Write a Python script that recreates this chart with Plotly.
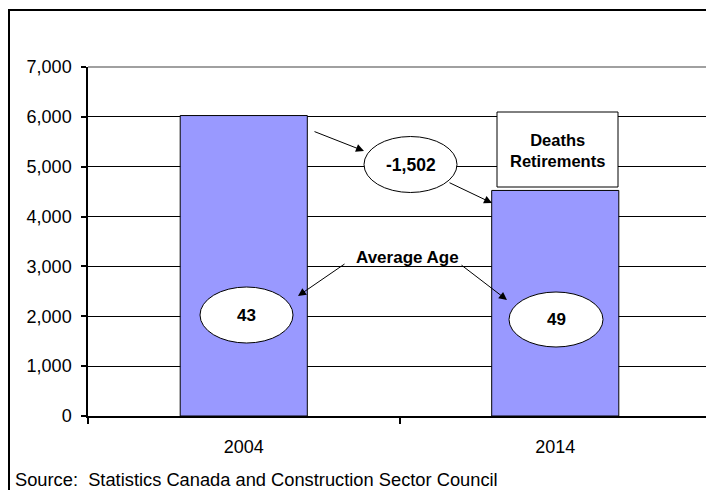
import plotly.graph_objects as go

# ---- data ----
years = ["2004", "2014"]
workers = [6026, 4524]
avg_age = [43, 49]
y_ticks = [0, 1000, 2000, 3000, 4000, 5000, 6000, 7000]
source_text = "Source:  Statistics Canada and Construction Sector Council"
box_text = "<b>Deaths<br>Retirements</b>"
age_label = "Average Age"

change = workers[1] - workers[0]

OFF = 8  # page body margin
W, H = 714 - OFF, 490 - OFF
L, R, T, B = 88, 711, 67, 416  # plot area in page pixels


def xp(px):
    return (px - L) / (R - L)


def yp(py):
    return (B - py) / (B - T)


FONT = "Liberation Sans, Arial, sans-serif"

fig = go.Figure()
fig.add_trace(go.Bar(
    x=years, y=workers,
    marker=dict(color="#9999FF", line=dict(color="black", width=1)),
    hoverinfo="skip",
))

shapes = []
# outer frame (top and left)
shapes.append(dict(type="line", xref="paper", yref="paper", x0=xp(9), x1=xp(716), y0=yp(10), y1=yp(10),
                   line=dict(color="black", width=2)))
shapes.append(dict(type="line", xref="paper", yref="paper", x0=xp(9), x1=xp(9), y0=yp(9), y1=yp(492),
                   line=dict(color="black", width=2)))
# plot-area border (top/right) gray
shapes.append(dict(type="line", xref="paper", yref="paper", x0=0, x1=1, y0=1, y1=1,
                   line=dict(color="#808080", width=1.5)))
shapes.append(dict(type="line", xref="paper", yref="paper", x0=1, x1=1, y0=0, y1=1,
                   line=dict(color="#808080", width=1.5)))


def ellipse(cx, cy, rx, ry):
    return dict(type="circle", xref="paper", yref="paper",
                x0=xp(cx - rx), x1=xp(cx + rx), y0=yp(cy + ry), y1=yp(cy - ry),
                fillcolor="white", line=dict(color="black", width=1), layer="above")


shapes.append(ellipse(410.5, 164.5, 46.5, 28))
shapes.append(ellipse(246.5, 315, 46.5, 28))
shapes.append(ellipse(556, 319.5, 47, 27.5))
# Deaths / Retirements box
shapes.append(dict(type="rect", xref="paper", yref="paper",
                   x0=xp(497), x1=xp(618), y0=yp(187), y1=yp(112),
                   fillcolor="white", line=dict(color="black", width=1), layer="above"))

annotations = []


def text_ann(px, py, text, size=17, bold=True, xanchor="center", yanchor="middle"):
    return dict(xref="paper", yref="paper", x=xp(px), y=yp(py), text=(f"<b>{text}</b>" if bold else text),
                showarrow=False, font=dict(family=FONT, size=size, color="black"),
                xanchor=xanchor, yanchor=yanchor)


annotations.append(text_ann(410.5, 164.5, f"{change:,}", size=17.5))
annotations.append(text_ann(246.5, 315, str(avg_age[0])))
annotations.append(text_ann(556, 319.5, str(avg_age[1])))
annotations.append(text_ann(407, 257, age_label))
annotations.append(dict(xref="paper", yref="paper", x=xp(557.5), y=yp(150), text=box_text,
                        showarrow=False, font=dict(family=FONT, size=16.5, color="black"),
                        xanchor="center", yanchor="middle", align="center"))
annotations.append(dict(xref="paper", yref="paper", x=xp(13), y=yp(492), text=source_text,
                        showarrow=False, font=dict(family=FONT, size=18.3, color="black"),
                        xanchor="left", yanchor="bottom"))


def arrow(tx, ty, hx, hy):
    return dict(xref="paper", yref="paper", x=xp(hx), y=yp(hy), ax=tx - hx, ay=ty - hy,
                text="", showarrow=True, arrowhead=2, arrowsize=1.6, arrowwidth=1,
                arrowcolor="black")


annotations.append(arrow(313, 131, 364, 151))
annotations.append(arrow(448, 182, 492, 203))
annotations.append(arrow(346, 263, 298, 296))
annotations.append(arrow(460, 264, 507, 300))

fig.update_layout(
    width=W, height=H,
    margin=dict(l=L - OFF, r=714 - R, t=T - OFF, b=490 - B, pad=0),
    paper_bgcolor="white", plot_bgcolor="white",
    showlegend=False,
    bargap=0.592,
    font=dict(family=FONT, size=17, color="black"),
    shapes=shapes,
    annotations=annotations,
    xaxis=dict(type="category", showline=True, linecolor="black", linewidth=1.5,
               ticks="outside", tickson="boundaries", ticklen=6, tickcolor="black", tickwidth=1.5,
               showgrid=False, tickfont=dict(size=18), ticklabelstandoff=14),
    yaxis=dict(range=[0, 7000], tickvals=y_ticks, tickformat=",", showline=True,
               linecolor="black", linewidth=1.5, ticks="outside", ticklen=5, tickcolor="black",
               tickwidth=1.5, showgrid=True, gridcolor="black", gridwidth=1, zeroline=False,
               tickfont=dict(size=18), ticklabelstandoff=6),
)

fig.write_html("out.html")
